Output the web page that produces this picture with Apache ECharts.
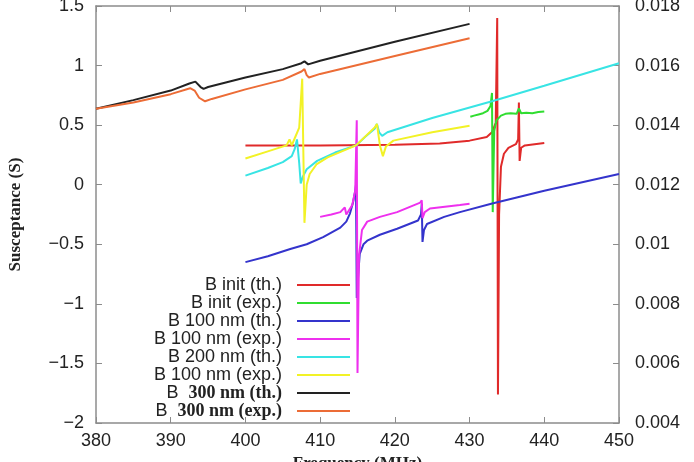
<!DOCTYPE html>
<html>
<head>
<meta charset="utf-8">
<script src="https://cdn.jsdelivr.net/npm/echarts@6/dist/echarts.min.js"></script>
<style>
  html, body { margin: 0; background: #fff; }
  #chart { width: 694px; height: 462px; }
</style>
</head>
<body>
<div id="chart"></div>
<script>
// axis ranges
const freqRange = [380, 450];
const susRange = [-2, 1.5];
const rightRange = [0.004, 0.018];

// legend labels (the original repeats "B 100 nm (exp.)" for the yellow curve)
const seriesNames = ['initTh', 'initExp', 'b100Th', 'b100Exp', 'b200Th', 'b200Exp', 'b300Th', 'b300Exp'];
const legendLabels = ['B init (th.)', 'B init (exp.)', 'B 100 nm (th.)', 'B 100 nm (exp.)',
  'B 200 nm (th.)', 'B 100 nm (exp.)', 'B  300 nm (th.)', 'B  300 nm (exp.)'];
const colors = ['#e02a2a', '#30dd30', '#3434cc', '#ee30ee', '#38e4e4', '#f2f226', '#222222', '#ec6c36'];

// [frequency MHz, susceptance S]
const initTh = [[400, 0.33], [410, 0.33], [420, 0.335], [426, 0.345], [430, 0.37], [432.3, 0.40],
  [433.0, 0.44], [433.5, 0.52], [433.7, 1.40], [433.8, -1.76], [433.95, -0.25], [434.2, 0.15],
  [434.6, 0.26], [435.2, 0.31], [436.2, 0.34], [436.5, 0.38], [436.6, 0.69], [436.7, 0.20],
  [436.9, 0.31], [437.4, 0.33], [440, 0.35]];
const initExp = [[430.1, 0.57], [430.6, 0.58], [431.2, 0.59], [431.8, 0.60], [432.4, 0.62],
  [432.8, 0.66], [433.0, 0.77], [433.1, -0.23], [433.3, 0.45], [433.6, 0.54], [434.2, 0.58],
  [434.8, 0.595], [435.5, 0.60], [436.3, 0.595], [436.6, 0.64], [436.9, 0.60], [437.6, 0.605],
  [438.4, 0.60], [439.2, 0.61], [440, 0.615]];
const b100Th = [[400, -0.65], [403, -0.60], [406, -0.54], [408.2, -0.50], [410.4, -0.44],
  [412.7, -0.36], [413.5, -0.31], [414.0, -0.24], [414.4, -0.15], [414.7, -0.05], [414.8, 0.0],
  [414.9, -0.95], [415.1, -0.75], [415.3, -0.58], [415.8, -0.50], [416.3, -0.47], [418, -0.42],
  [420.3, -0.37], [423.1, -0.30], [423.5, -0.25], [423.6, -0.16], [423.7, -0.48], [423.9, -0.38],
  [424.3, -0.33], [426.6, -0.27], [428.7, -0.23], [432.9, -0.16], [440, -0.05], [450, 0.09]];
const b100Exp = [[410, -0.27], [411.5, -0.25], [412.7, -0.23], [413.3, -0.19], [413.5, -0.25],
  [413.8, -0.22], [414.3, -0.17], [414.7, -0.05], [414.9, 0.54], [415.0, -1.58], [415.2, -0.60],
  [415.6, -0.38], [416.3, -0.31], [418, -0.27], [420.3, -0.23], [423.4, -0.15], [423.6, -0.13],
  [423.7, -0.28], [424.0, -0.23], [424.7, -0.20], [428.7, -0.17], [430, -0.16]];
const b200Th = [[400, 0.076], [403, 0.14], [405, 0.19], [406.2, 0.24], [406.6, 0.30], [406.9, 0.38],
  [407.2, 0.18], [407.4, 0.01], [407.7, 0.07], [408.2, 0.13], [409.6, 0.20], [412, 0.27],
  [414.8, 0.33], [416, 0.40], [417.3, 0.47], [417.6, 0.51], [417.9, 0.44], [418.3, 0.41],
  [419, 0.44], [425, 0.56], [433, 0.70], [440, 0.83], [450, 1.02]];
const b200Exp = [[400, 0.22], [403, 0.28], [405.5, 0.33], [405.9, 0.38], [406.2, 0.33],
  [406.6, 0.39], [407.2, 0.48], [407.6, 0.89], [407.9, -0.32], [408.2, 0.0], [408.6, 0.09],
  [409.5, 0.17], [411, 0.23], [414.8, 0.33], [417.3, 0.48], [417.6, 0.51], [418.0, 0.33],
  [418.4, 0.24], [418.8, 0.32], [419.8, 0.37], [425, 0.44], [430, 0.495]];
const b300Th = [[380, 0.637], [385, 0.71], [390, 0.79], [392.5, 0.85], [393.3, 0.865], [394.0, 0.82],
  [394.4, 0.805], [395, 0.82], [400, 0.90], [405, 0.97], [407.5, 1.02], [407.9, 1.035],
  [408.4, 1.01], [410, 1.04], [420, 1.20], [430, 1.35]];
const b300Exp = [[380, 0.637], [385, 0.69], [390, 0.76], [392.6, 0.81], [393.2, 0.79], [393.8, 0.73],
  [394.6, 0.70], [395.5, 0.72], [400, 0.80], [405, 0.88], [407.5, 0.95], [407.9, 0.97],
  [408.2, 0.92], [408.5, 0.90], [410, 0.93], [420, 1.08], [430, 1.23]];

const seriesData = [initTh, initExp, b100Th, b100Exp, b200Th, b200Exp, b300Th, b300Exp];

const chart = echarts.init(document.getElementById('chart'));

const axisLine = { onZero: false, lineStyle: { color: '#8c8c8c', width: 1.5 } };
const axisTick = { inside: true, length: 6, lineStyle: { color: '#8c8c8c', width: 1 } };
const labelStyle = { fontFamily: 'Liberation Sans', fontSize: 18, color: '#222' };
const nameStyle = { fontFamily: 'Liberation Serif', fontWeight: 'bold', fontSize: 17, color: '#222' };

function minus(v) {
  return String(v).replace('-', '\u2212');
}

chart.setOption({
  animation: false,
  backgroundColor: '#fff',
  grid: { left: 96, right: 75, top: 6, bottom: 39, containLabel: false, outerBoundsMode: 'none' },
  xAxis: [
    {
      type: 'value',
      min: freqRange[0],
      max: freqRange[1],
      interval: 10,
      name: 'Frequency (MHz)',
      nameLocation: 'middle',
      nameGap: 32,
      nameTextStyle: nameStyle,
      axisLine: axisLine,
      axisTick: axisTick,
      axisLabel: Object.assign({ margin: 9 }, labelStyle),
      splitLine: { show: false }
    },
    {
      type: 'value',
      position: 'top',
      min: freqRange[0],
      max: freqRange[1],
      interval: 10,
      axisLine: axisLine,
      axisTick: axisTick,
      axisLabel: { show: false },
      splitLine: { show: false }
    }
  ],
  yAxis: [
    {
      type: 'value',
      min: susRange[0],
      max: susRange[1],
      interval: 0.5,
      name: 'Susceptance (S)',
      nameLocation: 'middle',
      nameRotate: 90,
      nameGap: 72,
      nameTextStyle: nameStyle,
      axisLine: axisLine,
      axisTick: axisTick,
      axisLabel: Object.assign({ margin: 12, formatter: minus }, labelStyle),
      splitLine: { show: false }
    },
    {
      type: 'value',
      position: 'right',
      min: rightRange[0],
      max: rightRange[1],
      interval: 0.002,
      axisLine: Object.assign({ show: true }, axisLine),
      axisTick: Object.assign({ show: true }, axisTick),
      axisLabel: Object.assign({ margin: 16 }, labelStyle),
      splitLine: { show: false }
    }
  ],
  legend: {
    orient: 'vertical',
    align: 'right',
    right: 344,
    top: 276,
    padding: 0,
    itemWidth: 53,
    itemHeight: 2,
    itemGap: 0,
    icon: 'rect',
    data: seriesNames,
    formatter: function (name) {
      const label = legendLabels[seriesNames.indexOf(name)];
      if (label.indexOf('300') >= 0) {
        const cut = label.indexOf('300');
        return '{s|' + label.slice(0, cut) + '}{b|' + label.slice(cut) + '}';
      }
      return '{s|' + label + '}';
    },
    textStyle: {
      color: '#222',
      lineHeight: 17.8,
      padding: [0, 10, 0, 0],
      rich: {
        s: { fontFamily: 'Liberation Sans', fontSize: 18, lineHeight: 17.8, color: '#222' },
        b: { fontFamily: 'Liberation Serif', fontWeight: 'bold', fontSize: 18, lineHeight: 17.8, color: '#222' }
      }
    }
  },
  series: seriesNames.map(function (name, i) {
    return {
      name: name,
      type: 'line',
      data: seriesData[i],
      symbol: 'none',
      color: colors[i],
      lineStyle: { width: 2, color: colors[i] }
    };
  })
});
</script>
</body>
</html>
